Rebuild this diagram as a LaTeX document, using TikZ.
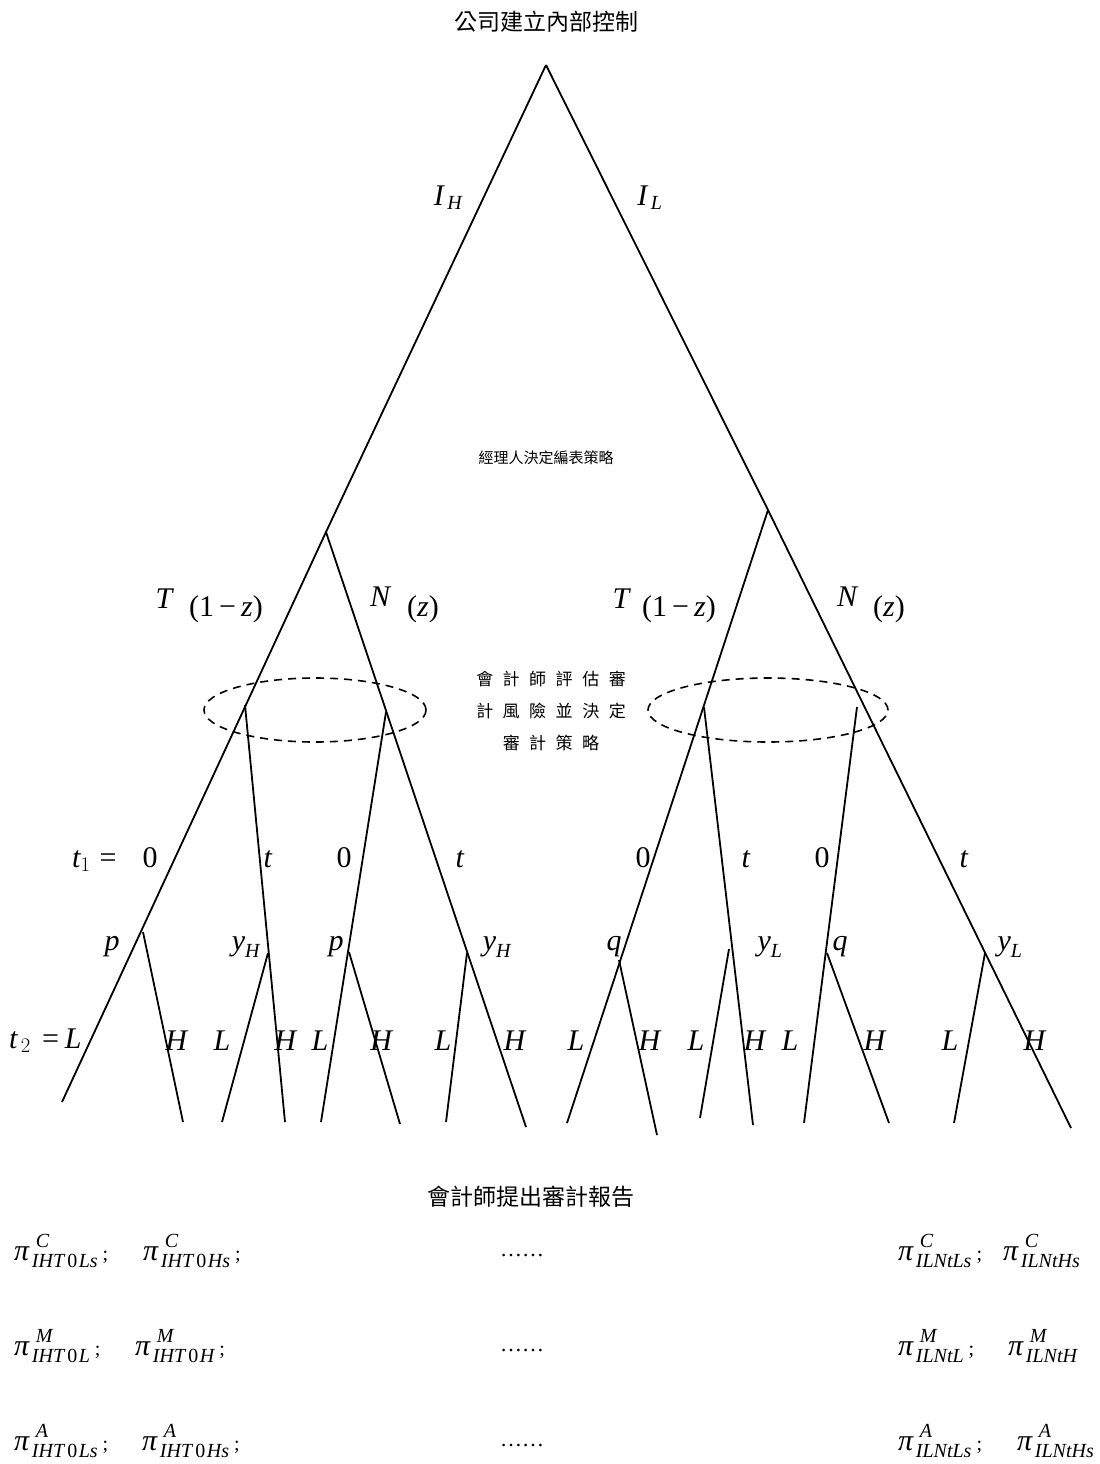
\documentclass[tikz,border=0pt]{standalone}
\usepackage{amsmath}
\usepackage{fontspec}
\setmainfont{Liberation Serif}
\newfontfamily\cjk{Noto Sans CJK TC}
\usetikzlibrary{shapes.geometric}
\DeclareMathSizes{30}{30}{20}{14}
\newcommand\vi[1]{\text{\itshape #1}}
\newcommand\gp{\hspace{9.5pt}}
\newcommand\scr{\fontsize{20}{20}\selectfont\itshape}
% payoff: sup, sub, trailing
\newcommand\po[3]{\textit{π}\hspace{2pt}\rlap{\hspace{4pt}\raisebox{13pt}{\scr #1}}\raisebox{-7pt}{\scr #2}#3}
\newcommand\semi{{\fontsize{20}{20}\selectfont\hspace{5pt};}}
\newcommand\zr{\hspace{2pt}\textup{0}\hspace{1.5pt}}
\tikzset{
  br/.style={line width=1.8pt},
  infoset/.style={line width=1.6pt, dash pattern=on 8pt off 6pt},
  lab/.style={font=\fontsize{30}{36}\selectfont, inner sep=0pt, anchor=base},
  pay/.style={font=\fontsize{30}{36}\selectfont, inner sep=0pt, anchor=base west},
  dots/.style={font=\fontsize{22}{26}\selectfont, inner sep=0pt, anchor=base},
  cjkt/.style={font=\cjk\fontsize{23}{28}\selectfont, inner sep=0pt, anchor=center},
  cjks/.style={font=\cjk\fontsize{15}{18}\selectfont, inner sep=0pt, anchor=center},
  cjkm/.style={font=\cjk\fontsize{17}{20}\selectfont, inner sep=0pt, anchor=center}
}
\begin{document}
\begin{tikzpicture}[x=1pt,y=-1pt]
\useasboundingbox (0,0) rectangle (1100,1464);
% titles
\node[cjkt] (title) at (546,22) {公司建立內部控制};
\node[cjks] (mgr) at (546,458) {經理人決定編表策略};
\node[cjkm] (aud1) at (551,679) {會\gp 計\gp 師\gp 評\gp 估\gp 審};
\node[cjkm] (aud2) at (551,711) {計\gp 風\gp 險\gp 並\gp 決\gp 定};
\node[cjkm] (aud3) at (551,743) {審\gp 計\gp 策\gp 略};
\node[cjkt] (rep) at (531,1197) {會計師提出審計報告};
% tree points
\coordinate (root) at (546,65);
\coordinate (nl) at (326,532);
\coordinate (nr) at (768,510);
% left subtree
\coordinate (lTend) at (62,1102);
\coordinate (lNend) at (526,1127);
\coordinate (i1) at (245,705);
\coordinate (i1end) at (285,1122);
\coordinate (i2) at (386,712);
\coordinate (i2end) at (321,1122);
\coordinate (p1) at (143,932);
\coordinate (p1end) at (183,1122);
\coordinate (yh1) at (268,953);
\coordinate (yh1end) at (222,1122);
\coordinate (p2) at (349,952);
\coordinate (p2end) at (400,1124);
\coordinate (yh2) at (467,953);
\coordinate (yh2end) at (446,1122);
% right subtree
\coordinate (rTend) at (567,1123);
\coordinate (rNend) at (1071,1128);
\coordinate (i3) at (704,707);
\coordinate (i3end) at (753,1125);
\coordinate (i4) at (857,707);
\coordinate (i4end) at (804,1123);
\coordinate (q1) at (619,960);
\coordinate (q1end) at (657,1135);
\coordinate (yl1) at (729,949);
\coordinate (yl1end) at (700,1118);
\coordinate (q2) at (827,953);
\coordinate (q2end) at (889,1123);
\coordinate (yl2) at (985,953);
\coordinate (yl2end) at (954,1123);
% branches
\draw[br] (root) -- (nl);
\draw[br] (root) -- (nr);
\draw[br] (nl) -- (lTend);
\draw[br] (nl) -- (lNend);
\draw[br] (i1) -- (i1end);
\draw[br] (i2) -- (i2end);
\draw[br] (p1) -- (p1end);
\draw[br] (yh1) -- (yh1end);
\draw[br] (p2) -- (p2end);
\draw[br] (yh2) -- (yh2end);
\draw[br] (nr) -- (rTend);
\draw[br] (nr) -- (rNend);
\draw[br] (i3) -- (i3end);
\draw[br] (i4) -- (i4end);
\draw[br] (q1) -- (q1end);
\draw[br] (yl1) -- (yl1end);
\draw[br] (q2) -- (q2end);
\draw[br] (yl2) -- (yl2end);
% information sets
\node[infoset, draw, ellipse, minimum width=222pt, minimum height=64pt, inner sep=0pt] (setL) at (315,710) {};
\node[infoset, draw, ellipse, minimum width=240pt, minimum height=64pt, inner sep=0pt] (setR) at (768,710) {};
% labels level 1
\node[lab] (lIH) at (448,205) {$\vi{I}_{\,\vi{H}}$};
\node[lab] (lIL) at (650,205) {$\vi{I}_{\,\vi{L}}$};
% level 2
\node[lab] (lT1) at (164,608) {$\vi{T}$};
\node[lab] (lz1) at (226,616) {(1\,−\,\textit{z})};
\node[lab] (lN1) at (380,606) {$\vi{N}$};
\node[lab] (lz2) at (423,616) {(\textit{z})};
\node[lab] (lT2) at (621,608) {$\vi{T}$};
\node[lab] (lz3) at (679,616) {(1\,−\,\textit{z})};
\node[lab] (lN2) at (847,606) {$\vi{N}$};
\node[lab] (lz4) at (889,616) {(\textit{z})};
% t1 row
\node[lab, anchor=base west] (t1) at (72,867) {$\vi{t}_{1}$\hspace{9pt}=};
\node[lab] (a1) at (150,867) {0};
\node[lab] (a2) at (268,867) {\textit{t}};
\node[lab] (a3) at (344,867) {0};
\node[lab] (a4) at (460,867) {\textit{t}};
\node[lab] (a5) at (643,867) {0};
\node[lab] (a6) at (746,867) {\textit{t}};
\node[lab] (a7) at (822,867) {0};
\node[lab] (a8) at (964,867) {\textit{t}};
% probability row
\node[lab] (b1) at (112,950) {\textit{p}};
\node[lab] (b2) at (246,950) {$\vi{y}_{\vi{H}}$};
\node[lab] (b3) at (336,950) {\textit{p}};
\node[lab] (b4) at (497,950) {$\vi{y}_{\vi{H}}$};
\node[lab] (b5) at (614,950) {\textit{q}};
\node[lab] (b6) at (770,950) {$\vi{y}_{\vi{L}}$};
\node[lab] (b7) at (840,950) {\textit{q}};
\node[lab] (b8) at (1010,950) {$\vi{y}_{\vi{L}}$};
% t2 row
\node[lab, anchor=base west] (t2) at (9,1048) {$\vi{t}_{\,2}$\hspace{11pt}=\hspace{6pt}\textit{L}};
\node[lab] (c1) at (177,1050) {\textit{H}};
\node[lab] (c2) at (222,1050) {\textit{L}};
\node[lab] (c3) at (286,1050) {\textit{H}};
\node[lab] (c4) at (320,1050) {\textit{L}};
\node[lab] (c5) at (382,1050) {\textit{H}};
\node[lab] (c6) at (443,1050) {\textit{L}};
\node[lab] (c7) at (515,1050) {\textit{H}};
\node[lab] (c8) at (576,1050) {\textit{L}};
\node[lab] (c9) at (650,1050) {\textit{H}};
\node[lab] (c10) at (696,1050) {\textit{L}};
\node[lab] (c11) at (755,1050) {\textit{H}};
\node[lab] (c12) at (790,1050) {\textit{L}};
\node[lab] (c13) at (875,1050) {\textit{H}};
\node[lab] (c14) at (950,1050) {\textit{L}};
\node[lab] (c15) at (1035,1050) {\textit{H}};
% payoffs
\node[pay] (pc1) at (14,1260) {\po{C}{IHT\zr Ls}{\semi}};
\node[pay] (pc2) at (143,1260) {\po{C}{IHT\zr Hs}{\semi}};
\node[dots] (dc) at (522,1256) {……};
\node[pay] (pc3) at (898,1260) {\po{C}{ILNtLs}{\semi}};
\node[pay] (pc4) at (1003,1260) {\po{C}{ILNtHs}{}};
\node[pay] (pm1) at (14,1355) {\po{M}{IHT\zr L}{\semi}};
\node[pay] (pm2) at (135,1355) {\po{M}{IHT\zr H}{\semi}};
\node[dots] (dm) at (522,1351) {……};
\node[pay] (pm3) at (898,1355) {\po{M}{ILNtL}{\semi}};
\node[pay] (pm4) at (1008,1355) {\po{M}{ILNtH}{}};
\node[pay] (pa1) at (14,1450) {\po{A}{IHT\zr Ls}{\semi}};
\node[pay] (pa2) at (142,1450) {\po{A}{IHT\zr Hs}{\semi}};
\node[dots] (da) at (522,1446) {……};
\node[pay] (pa3) at (898,1450) {\po{A}{ILNtLs}{\semi}};
\node[pay] (pa4) at (1017,1450) {\po{A}{ILNtHs}{}};
\end{tikzpicture}
\end{document}
